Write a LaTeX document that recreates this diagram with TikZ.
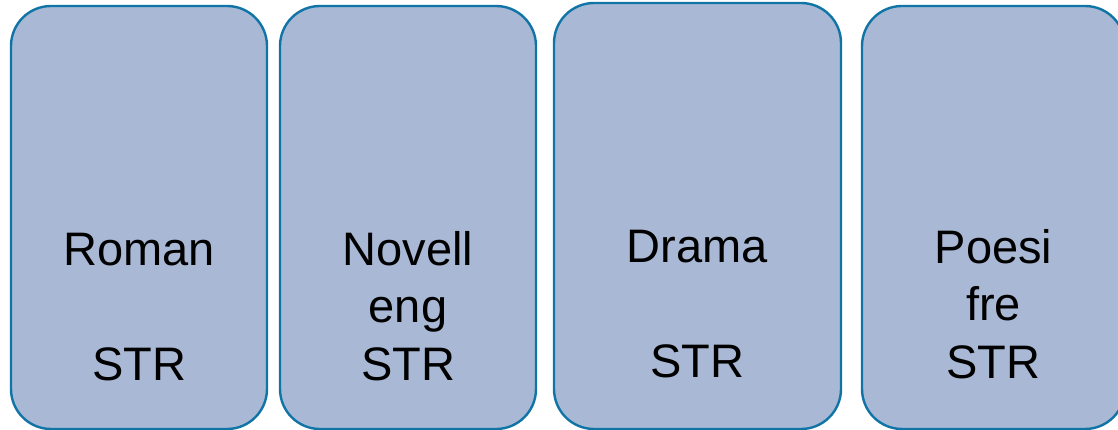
\documentclass[tikz,border=0pt]{standalone}
\usepackage{fontspec}
\setmainfont{Liberation Sans}
\usetikzlibrary{positioning}
\definecolor{strline}{RGB}{16,116,166}
\definecolor{strfill}{RGB}{169,184,212}

\begin{document}
\begin{tikzpicture}[x=1pt,y=-1pt,
        genre/.style={draw=strline,fill=strfill,line width=2.4pt,rounded corners=40pt,
          minimum width=256pt,minimum height=423pt,inner sep=0pt},
        words/.style={align=center,inner sep=0pt,anchor=base,
          font=\fontsize{47}{57.5}\selectfont}]
        \useasboundingbox (0,0) rectangle (1118,430);
        \clip (0,0) rectangle (1118,430);
        \node[genre] (1) at (139,217.5) {};
        \node[genre] (2) at (408,217.5) {};
        \node[genre,minimum width=287pt,minimum height=426pt] (3) at (697.5,216) {};
        \node[genre,minimum width=263pt] (4) at (993.5,217.5) {};

        \node[words] (t1) at (1.center |- 0,380) {Roman\\[57.5pt]STR};
        \node[words] (t2) at (2.center |- 0,380) {Novell\\eng\\STR};
        \node[words] (t3) at (3.center |- 0,377) {Drama\\[57.5pt]STR};
        \node[words] (t4) at (4.center |- 0,378) {Poesi\\fre\\STR};
    \end{tikzpicture}
\end{document}
